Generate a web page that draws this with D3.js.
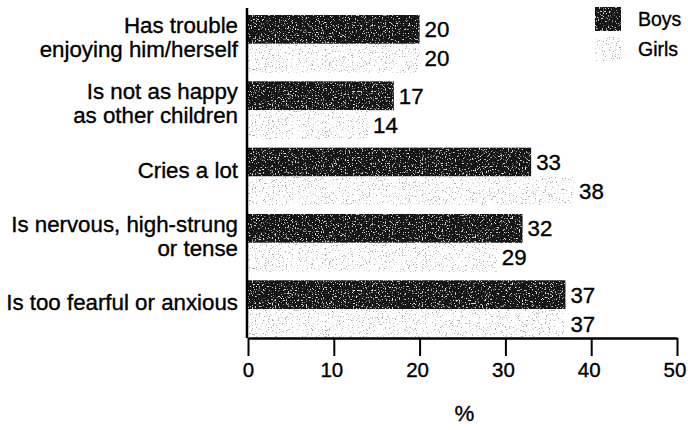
<!DOCTYPE html>
<html>
<head>
<meta charset="utf-8">
<script src="https://cdn.jsdelivr.net/npm/d3@7"></script>
<style>
  html, body { margin: 0; padding: 0; background: #fff; }
  svg { display: block; font-family: "Liberation Sans", Arial, Helvetica, sans-serif; }
  svg text { stroke: #000; stroke-width: 0.35px; }
</style>
</head>
<body>
<svg id="chart" width="688" height="430"></svg>
<script>
// Categorias (uma ou duas linhas cada) e valores por série
const CATEGORIES = [
  ["Has trouble", "enjoying him/herself"],
  ["Is not as happy", "as other children"],
  ["Cries a lot"],
  ["Is nervous, high-strung", "or tense"],
  ["Is too fearful or anxious"],
];
const SERIES = ["Boys", "Girls"];
const BOYS = [20, 17, 33, 32, 37];
const GIRLS = [20, 14, 38, 29, 37];
const X_TICKS = [0, 10, 20, 30, 40, 50];

const svg = d3.select("#chart");
const margin = { top: 15, right: 11, bottom: 92, left: 248 };
const W = 688 - margin.left - margin.right;
const H = 430 - margin.top - margin.bottom;
const FS = "22.3px";

// Texturas pontilhadas (ruído determinístico do feTurbulence)
const defs = svg.append("defs");
function speckle(id, freq, seed, grey, gain, offset) {
  const f = defs.append("filter").attr("id", id)
    .attr("x", 0).attr("y", 0).attr("width", 1).attr("height", 1);
  f.append("feTurbulence").attr("type", "fractalNoise")
    .attr("baseFrequency", freq).attr("numOctaves", 2).attr("seed", seed).attr("result", "noise");
  f.append("feColorMatrix").attr("in", "noise").attr("type", "matrix")
    .attr("values", `0 0 0 0 ${grey}  0 0 0 0 ${grey}  0 0 0 0 ${grey}  ${gain} 0 0 0 ${offset}`)
    .attr("result", "spots");
  f.append("feComposite").attr("in", "spots").attr("in2", "SourceGraphic").attr("operator", "in").attr("result", "clip");
  const m = f.append("feMerge");
  m.append("feMergeNode").attr("in", "SourceGraphic");
  m.append("feMergeNode").attr("in", "clip");
}
speckle("speckDark", 0.7, 4, 0.7, 9, -5.5);
speckle("speckLight", 0.7, 9, 0.4, 9, -5.5);

const FILL = { Boys: "#141414", Girls: "#fefefe" };
const FILTER = { Boys: "url(#speckDark)", Girls: "url(#speckLight)" };

const g = svg.append("g").attr("transform", `translate(${margin.left},${margin.top})`);

const x = d3.scaleLinear().domain([0, 50]).range([0, W]);
const y = d3.scaleBand().domain(d3.range(CATEGORIES.length)).range([0, H]).paddingInner(0.13).paddingOuter(0);
const ySub = d3.scaleBand().domain(SERIES).range([0, y.bandwidth()]);

const rows = CATEGORIES.map((c, i) => ({ i, c, Boys: BOYS[i], Girls: GIRLS[i] }));

// Barras
const groups = g.selectAll(".grp").data(rows).join("g")
  .attr("transform", (d) => `translate(0,${y(d.i)})`);

groups.selectAll("rect").data((d) => SERIES.map((s) => ({ s, v: d[s] }))).join("rect")
  .attr("x", 0).attr("y", (d) => ySub(d.s))
  .attr("width", (d) => x(d.v)).attr("height", ySub.bandwidth())
  .attr("fill", (d) => FILL[d.s]).attr("filter", (d) => FILTER[d.s]);

groups.selectAll(".val").data((d) => SERIES.map((s) => ({ s, v: d[s] }))).join("text")
  .attr("class", "val")
  .attr("x", (d) => x(d.v) + 5).attr("y", (d) => ySub(d.s) + ySub.bandwidth() / 2)
  .attr("dy", "0.36em").style("font-size", FS).style("fill", "#000")
  .text((d) => d.v);

// Rótulos das categorias
groups.each(function (d) {
  const t = d3.select(this).append("text")
    .attr("text-anchor", "end").attr("x", -10)
    .style("font-size", FS).style("fill", "#000");
  const n = d.c.length;
  const mid = y.bandwidth() / 2 - 7;
  d.c.forEach((line, k) => {
    t.append("tspan").attr("x", -10)
      .attr("y", mid + (k - (n - 1) / 2) * 24.5)
      .attr("dy", "0.36em").text(line);
  });
});

// Eixo x
const xAxis = g.append("g").attr("transform", `translate(0,${H})`)
  .call(d3.axisBottom(x).tickValues(X_TICKS).tickSize(18).tickPadding(6).tickSizeOuter(0));
xAxis.select(".domain").attr("stroke", "#000").attr("stroke-width", 2.5);
xAxis.selectAll(".tick line").attr("stroke", "#000").attr("stroke-width", 2);
xAxis.selectAll(".tick text").style("font-size", "20.5px").style("font-family", "inherit")
  .attr("fill", "#000").attr("dx", (d) => (d === 0 ? 0 : -2.5));

// Eixo y (apenas a linha)
g.append("line").attr("x1", -1).attr("x2", -1).attr("y1", -7).attr("y2", H)
  .attr("stroke", "#000").attr("stroke-width", 2.5);

g.append("text").attr("x", W / 2 + 2).attr("y", H + 75)
  .attr("text-anchor", "middle").attr("dy", "0.36em")
  .style("font-size", FS).text("%");

// Legenda
const legend = svg.append("g").attr("transform", "translate(595,7)");
SERIES.forEach((s, i) => {
  const ly = i * 30;
  legend.append("rect").attr("x", 0).attr("y", ly).attr("width", 26).attr("height", 24)
    .attr("fill", FILL[s]).attr("filter", FILTER[s]);
  legend.append("text").attr("x", 43).attr("y", ly + 12).attr("dy", "0.36em")
    .style("font-size", "19.5px").text(s);
});
</script>
</body>
</html>
